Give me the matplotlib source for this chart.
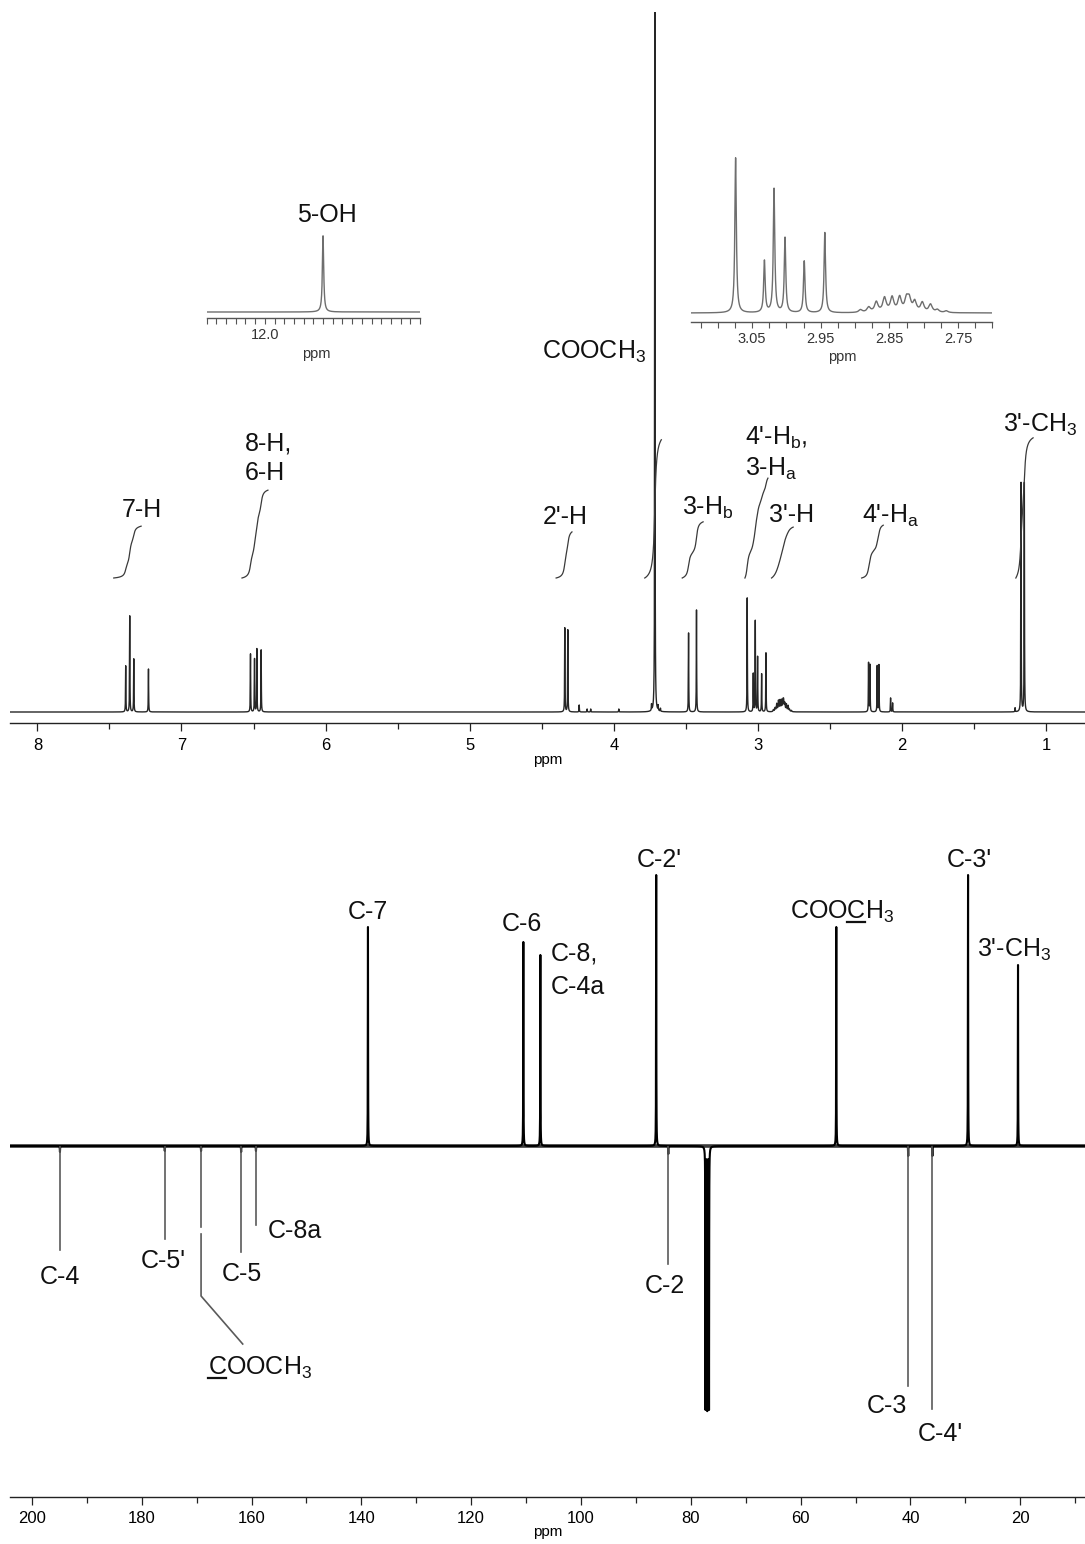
import numpy as np
import matplotlib
matplotlib.use("Agg")
import matplotlib.pyplot as plt
from matplotlib import font_manager
from matplotlib.transforms import Affine2D, blended_transform_factory

# ------------------------------------------------------------------ data
# 1H NMR lines: position (ppm) and height
h1_ppm = [7.387, 7.359, 7.331, 7.229,
          6.521, 6.493, 6.477, 6.447,
          4.340, 4.319, 4.240, 4.185, 4.160, 3.965,
          3.738, 3.715, 3.692, 3.676,
          3.481, 3.426,
          3.074, 3.032, 3.018, 3.002, 2.974, 2.944,
          2.232, 2.222, 2.172, 2.160, 2.079, 2.065,
          1.215, 1.174, 1.151]
h1_height = [46, 96, 53, 43,
             58, 53, 63, 62,
             84, 82, 7, 3, 3, 3,
             6, 760, 5, 3,
             79, 102,
             114, 38, 91, 55, 38, 59,
             49, 47, 46, 47, 14, 9,
             4, 229, 229]
# 3'-H multiplet (broader lines)
h1_mult_ppm = [2.892, 2.880, 2.869, 2.857, 2.846, 2.835, 2.825, 2.821,
               2.813, 2.802, 2.790, 2.780, 2.767]
h1_mult_height = [2.0, 3.7, 7.5, 10.4, 10.6, 10.6, 8.9, 8.6,
                  7.5, 7.0, 5.8, 2.0, 1.3]
# chelated 5-OH
oh_ppm = [11.88]
oh_height = [56]

# 1H integrals
int_start = [7.47, 6.58, 4.40, 3.785, 3.525, 3.09, 2.905, 2.28, 1.21]
int_end = [7.28, 6.40, 4.29, 3.67, 3.38, 2.93, 2.755, 2.13, 1.09]
int_value = [1.08, 1.83, 0.96, 2.88, 1.17, 2.08, 1.06, 1.10, 2.92]

# 13C APT lines
c13_ppm = [194.9, 175.8, 169.2, 161.9, 159.2, 138.8, 110.5, 107.4, 86.3,
           84.1, 77.32, 77.00, 76.68, 53.5, 40.4, 36.0, 29.5, 20.4]
c13_height = [-6, -5, -5, -6, -5, 219, 204, 191, 271,
              -8, -262, -262, -262, 219, -10, -10, 271, 181]

# axis ticks
h1_ticks = [1, 2, 3, 4, 5, 6, 7, 8]
c13_ticks = [20, 40, 60, 80, 100, 120, 140, 160, 180, 200]
oh_tick_labels = ["12.0"]
mult_tick_labels = ["3.05", "2.95", "2.85", "2.75"]

# ------------------------------------------------------------------ fonts
names = {f.name for f in font_manager.fontManager.ttflist}
LAB_FONT = "Liberation Sans" if "Liberation Sans" in names else "DejaVu Sans"
TICK_FONT = "Liberation Sans Narrow" if "Liberation Sans Narrow" in names else LAB_FONT
plt.rcParams["font.family"] = [LAB_FONT, "DejaVu Sans"]
plt.rcParams["mathtext.fontset"] = "custom"
plt.rcParams["mathtext.rm"] = LAB_FONT
plt.rcParams["mathtext.it"] = LAB_FONT + ":italic"
plt.rcParams["mathtext.bf"] = LAB_FONT + ":bold"

# ------------------------------------------------------------------ figure
W, H = 1085, 1544
fig = plt.figure(figsize=(W / 100, H / 100), dpi=100)
pix = Affine2D().scale(1.0 / W, -1.0 / H).translate(0, 1.0) + fig.transFigure


def add_ax(l, t, r, b, spine_col="#222"):
    ax = fig.add_axes([l / W, 1 - b / H, (r - l) / W, (b - t) / H])
    ax.patch.set_alpha(0)
    for s in ("top", "left", "right"):
        ax.spines[s].set_visible(False)
    ax.spines["bottom"].set_color(spine_col)
    ax.spines["bottom"].set_linewidth(1.0)
    ax.set_yticks([])
    return ax


def lorentz(x, centers, heights, hw):
    y = np.zeros_like(x)
    for c, a in zip(centers, heights):
        y += a / (1.0 + ((x - c) / hw) ** 2)
    return y


def lab(x, yc, s, ha="center", size=18):
    return fig.text(x, yc + 9, s, transform=pix, ha=ha, va="baseline",
                    fontsize=size, family=LAB_FONT, color="#111")


# ---------------- 1H spectrum
x1 = np.arange(0.5, 12.5, 0.0002)
HW = 0.0013
spec1 = (lorentz(x1, h1_ppm, h1_height, HW)
         + lorentz(x1, h1_mult_ppm, h1_mult_height, 0.003)
         + lorentz(x1, oh_ppm, oh_height, 0.0016))

ax1 = add_ax(10, 12, 1085, 723)
ax1.set_xlim(8.19, 0.73)
ax1.set_ylim(-11, 700)
ax1.plot(x1, spec1, color="#262626", lw=1.0)
ax1.set_xticks(h1_ticks)
ax1.set_xticklabels([str(t) for t in h1_ticks])
ax1.set_xticks(np.arange(1.5, 8.5, 1.0), minor=True)
ax1.tick_params(axis="x", which="major", direction="out", length=6, width=0.9,
                color="#222", pad=5, labelsize=12)
ax1.tick_params(axis="x", which="minor", direction="out", length=4, width=0.9,
                color="#222")
for t in ax1.get_xticklabels():
    t.set_family(TICK_FONT)
fig.text(548, 760, "ppm", transform=pix, ha="center", va="center",
         fontsize=11, family=TICK_FONT)

# integrals (cumulative area of a broadened copy of the spectrum)
HWB = 0.009
spec_b = (lorentz(x1, h1_ppm, np.array(h1_height) * HW / HWB, HWB)
          + lorentz(x1, h1_mult_ppm, np.array(h1_mult_height) * 0.003 / HWB, HWB))
INT_BASE, INT_SCALE = 134, 48
for s, e, v in zip(int_start, int_end, int_value):
    m = (x1 <= s) & (x1 >= e)
    xs = x1[m][::-1]
    cum = np.cumsum(spec_b[m][::-1])
    cum = (cum - cum[0]) / (cum[-1] - cum[0])
    ax1.plot(xs, INT_BASE + cum * v * INT_SCALE, color="#3a3a3a", lw=0.9)

# 1H labels
lab(327, 213, "5-OH")
lab(594, 350, r"COOCH$_\mathrm{3}$")
lab(142, 508, "7-H")
lab(245, 441, "8-H,", ha="left")
lab(245, 471, "6-H", ha="left")
lab(565, 515, "2'-H")
lab(682, 506, r"3-H$_\mathrm{b}$", ha="left")
lab(745, 436, r"4'-H$_\mathrm{b}$,", ha="left")
lab(745, 467, r"3-H$_\mathrm{a}$", ha="left")
lab(792, 513, "3'-H")
lab(862, 514, r"4'-H$_\mathrm{a}$", ha="left")
lab(1003, 423, r"3'-CH$_\mathrm{3}$", ha="left")

# insets
GAIN = 1.36
axA = add_ax(206.7, 225, 420, 318, spine_col="#555")
axA.set_xlim(12.12, 11.68)
axA.set_ylim(-6 / GAIN, 87 / GAIN)
axA.plot(x1, spec1, color="#6e6e6e", lw=1.0)
tA = np.round(np.arange(11.68, 12.1201, 0.02), 2)
axA.set_xticks(tA)
axA.set_xticklabels([oh_tick_labels[0] if abs(t - 12.0) < 1e-6 else "" for t in tA])

axB = add_ax(691, 140, 992.3, 322, spine_col="#555")
axB.set_xlim(3.139, 2.700)
axB.set_ylim(-9 / GAIN, 173 / GAIN)
axB.plot(x1, spec1, color="#6e6e6e", lw=1.0)
tB = np.round(np.arange(2.70, 3.1251, 0.025), 3)
axB.set_xticks(tB)
lblB = []
for t in tB:
    s = f"{t:.2f}"
    lblB.append(s if (s in mult_tick_labels and abs(t - float(s)) < 1e-6) else "")
axB.set_xticklabels(lblB)
for ax in (axA, axB):
    ax.tick_params(axis="x", direction="out", length=4, width=0.8, color="#555",
                   pad=3, labelsize=10.5, labelcolor="#333")
fig.text(316, 354, "ppm", transform=pix, ha="center", va="center", fontsize=10.5,
         family=LAB_FONT, color="#333")
fig.text(842, 357, "ppm", transform=pix, ha="center", va="center", fontsize=10.5,
         family=LAB_FONT, color="#333")

# ---------------- 13C spectrum
x2 = np.arange(0.0, 210.0, 0.004)
spec2 = lorentz(x2, c13_ppm, c13_height, 0.025)
ax2 = add_ax(10, 800, 1085, 1497)
ax2.set_xlim(204, 8.2)
ax2.set_ylim(-351, 346)
ax2.axhline(0, color="#3a3a3a", lw=2.6)
ax2.plot(x2, spec2, color="#000", lw=1.5)
ax2.set_xticks(c13_ticks)
ax2.set_xticklabels([str(t) for t in c13_ticks])
ax2.set_xticks(np.arange(10, 201, 20), minor=True)
ax2.tick_params(axis="x", which="major", direction="out", length=6, width=0.9,
                color="#222", pad=4, labelsize=12)
ax2.tick_params(axis="x", which="minor", direction="out", length=4, width=0.9,
                color="#222")
for t in ax2.get_xticklabels():
    t.set_family(TICK_FONT)
fig.text(548, 1532, "ppm", transform=pix, ha="center", va="center",
         fontsize=11, family=TICK_FONT)

# leader lines for negative (quaternary / CH2) carbons
bl = blended_transform_factory(ax2.transData, pix)
LEAD = "#5a5a5a"
leader_ends = {0: 1250, 1: 1239, 3: 1252, 4: 1225, 9: 1264, 14: 1386, 15: 1409}
for i, yend in leader_ends.items():
    ax2.plot([c13_ppm[i], c13_ppm[i]], [1147, yend], transform=bl, color=LEAD,
             lw=1.2, clip_on=False)
# ester C=O leader (with a small gap and an oblique end)
p = c13_ppm[2]
ax2.plot([p, p], [1147, 1227], transform=bl, color=LEAD, lw=1.2, clip_on=False)
x_img = ax2.transData.transform((p, 0))[0]
ax2.plot([x_img, x_img, 242.7], [1234, 1296, 1344], transform=pix, color=LEAD,
         lw=1.2, clip_on=False)

# 13C labels
lab(60, 1275, "C-4")
lab(163, 1259, "C-5'")
lab(242, 1272, "C-5")
lab(268, 1229, "C-8a", ha="left")
lab(208, 1366, r"COOCH$_\mathrm{3}$", ha="left")
lab(368, 910, "C-7")
lab(522, 922, "C-6")
lab(551, 952, "C-8,", ha="left")
lab(551, 985, "C-4a", ha="left")
lab(659, 858, "C-2'")
lab(665, 1284, "C-2")
lab(790, 910, r"COOCH$_\mathrm{3}$", ha="left")
lab(969, 858, "C-3'")
lab(977, 948, r"3'-CH$_\mathrm{3}$", ha="left")
lab(887, 1404, "C-3")
lab(940, 1432, "C-4'")

# underline one carbon of the two COOCH3 labels
fig.canvas.draw()
rend = fig.canvas.get_renderer()


def text_width(s):
    t = fig.text(0, 0, s, fontsize=18, family=LAB_FONT)
    w = t.get_window_extent(renderer=rend).width
    t.remove()
    return w


def underline(x_left, yc, pre, upto):
    a = x_left + (text_width(pre) if pre else 0.0)
    b = x_left + text_width(upto)
    y = yc + 9 + 2.5
    fig.add_artist(plt.Line2D([a, b], [y, y], transform=pix, color="#111", lw=1.6))


underline(208, 1366, "", "C")
underline(790, 910, "COO", "COOC")

fig.savefig("out.png", dpi=100)
